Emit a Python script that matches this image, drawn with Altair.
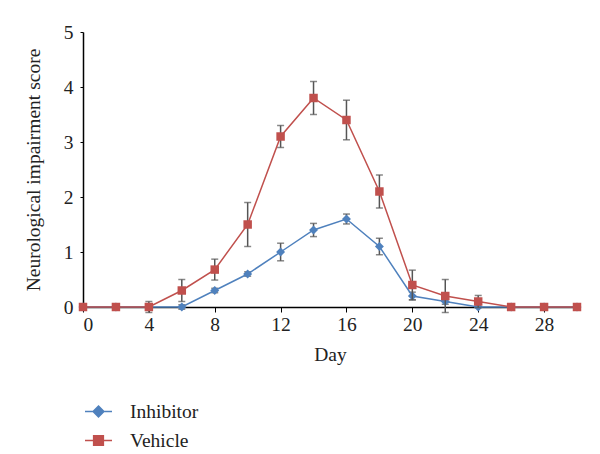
import altair as alt
import pandas as pd

days = list(range(0, 31, 2))
inhibitor = [0, 0, 0, 0, 0.3, 0.6, 1.0, 1.4, 1.6, 1.1, 0.2, 0.1, 0, 0, 0, 0]
inhibitor_err = [0, 0, 0, 0.04, 0.04, 0.04, 0.16, 0.12, 0.09, 0.15, 0.07, 0.05, 0, 0, 0, 0]
vehicle = [0, 0, 0, 0.3, 0.68, 1.5, 3.1, 3.8, 3.4, 2.1, 0.4, 0.2, 0.1, 0, 0, 0]
vehicle_err = [0, 0, 0.1, 0.2, 0.19, 0.4, 0.2, 0.3, 0.36, 0.3, 0.27, 0.3, 0.11, 0, 0, 0]

series_names = ["Inhibitor", "Vehicle"]
colors = ["#4F81BD", "#C0504D"]
shapes = ["diamond", "square"]
legend_paths = [
    "M-1,0L1,0M0,-0.4L0.4,0L0,0.4L-0.4,0Z",
    "M-1,0L1,0M-0.36,-0.36L0.36,-0.36L0.36,0.36L-0.36,0.36Z",
]

rows = []
for name, vals, errs in [("Inhibitor", inhibitor, inhibitor_err), ("Vehicle", vehicle, vehicle_err)]:
    for d, v, e in zip(days, vals, errs):
        rows.append({"day": d, "score": v, "lo": v - e, "hi": v + e, "err": e, "series": name})
df = pd.DataFrame(rows)

FONT = "Liberation Serif"
FS = 19.5
x_enc = alt.X("day:Q", scale=alt.Scale(domain=[0, 30], nice=False),
              axis=alt.Axis(values=list(range(0, 31, 2)),
                            labelExpr="datum.value % 4 == 0 ? datum.label : ''",
                            title="Day", grid=False, tickSize=5, labelPadding=3,
                            titlePadding=12))
y_enc = alt.Y("score:Q", scale=alt.Scale(domain=[0, 5], nice=False),
              axis=alt.Axis(values=[0, 1, 2, 3, 4, 5], title="Neurological impairment score",
                            grid=False, tickSize=3, labelPadding=7, titlePadding=20))

base = alt.Chart(df)
layers = []
sizes = [80, 72]
for name, col, shp, sz in zip(series_names, colors, shapes, sizes):
    b = base.transform_filter(alt.datum.series == name)
    eb = b.transform_filter(alt.datum.err > 0)
    layers.append(eb.mark_rule(color="#555555", strokeWidth=1.5).encode(
        x=x_enc, y="lo:Q", y2="hi:Q"))
    layers.append(eb.mark_tick(color="#555555", thickness=1.5, size=7, orient="horizontal").encode(
        x="day:Q", y="lo:Q"))
    layers.append(eb.mark_tick(color="#555555", thickness=1.5, size=7, orient="horizontal").encode(
        x="day:Q", y="hi:Q"))
    layers.append(b.mark_line(color=col, strokeWidth=1.5).encode(x=x_enc, y=y_enc))
    layers.append(b.mark_point(shape=shp, filled=True, color=col, size=sz, opacity=1).encode(
        x="day:Q", y="score:Q"))

leg = dict(title=None, orient="none", legendX=1, legendY=365,
           labelFont=FONT, labelFontSize=FS, labelColor="#222",
           symbolSize=729, symbolStrokeWidth=1.5, rowPadding=5, labelOffset=17)
legend_layer = base.transform_filter("false").mark_point(strokeWidth=1.5, opacity=1).encode(
    x="day:Q", y="score:Q",
    fill=alt.Fill("series:N", scale=alt.Scale(domain=series_names, range=colors), legend=None),
    stroke=alt.Stroke("series:N", scale=alt.Scale(domain=series_names, range=colors),
                      legend=alt.Legend(**leg)),
    shape=alt.Shape("series:N", scale=alt.Scale(domain=series_names, range=legend_paths),
                    legend=alt.Legend(**leg)),
)

chart = alt.layer(*layers, legend_layer).properties(
    width=494, height=275,
    autosize=alt.AutoSizeParams(type="none"),
    padding={"left": 75, "top": 24, "right": 15, "bottom": 147},
).configure_view(stroke=None).configure_axis(
    labelFont=FONT, titleFont=FONT, labelFontSize=FS, titleFontSize=FS,
    labelColor="#222", titleColor="#222", titleFontWeight="normal",
    domainColor="#000", tickColor="#000", domainWidth=1.5,
)

chart.save("out.html", embed_options={"renderer": "svg", "actions": False})
